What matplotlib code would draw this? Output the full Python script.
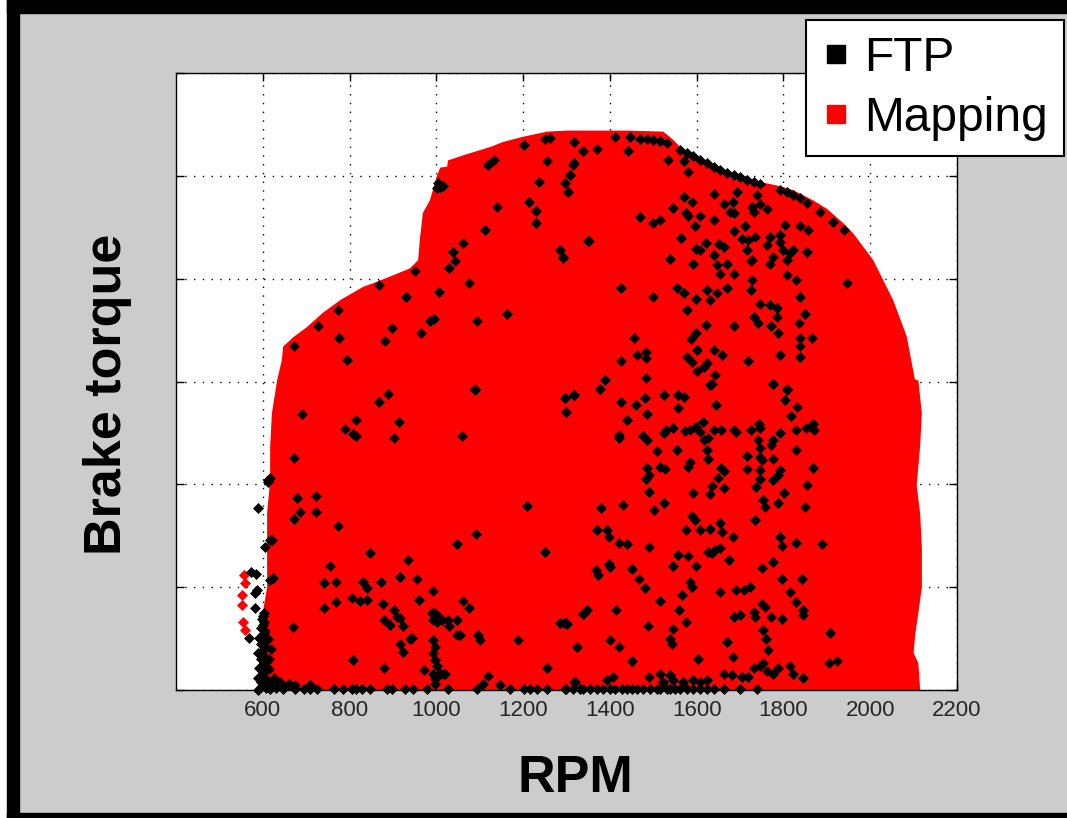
import matplotlib
matplotlib.use("Agg")
import matplotlib.pyplot as plt
from matplotlib.patches import Rectangle
from matplotlib.lines import Line2D

# ---------------- data ----------------
# outline of the engine-mapping cloud (RPM, brake torque, arbitrary units)
map_rpm = [589, 594, 600, 610, 610, 610, 617, 617, 621, 633, 644, 647, 670, 702, 739, 778,
           831, 863, 893, 939, 958, 962, 969, 985, 1002, 1009, 1025, 1027, 1062, 1124, 1154,
           1200, 1255, 1301, 1440, 1523, 1546, 1562, 1615, 1692, 1746, 1792, 1823, 1869, 1900,
           1938, 1961, 2007, 2053, 2084, 2103, 2111, 2119, 2115, 2107, 2115, 2119, 2119, 2111,
           2104, 2100, 2111, 2115]
map_torque = [0, 42, 75, 100, 139, 172, 204, 236, 269, 301, 321, 334, 343, 353, 367, 379,
              392, 397, 402, 410, 418, 438, 464, 476, 501, 508, 509, 515, 520, 528, 533,
              538, 543, 544, 544, 543, 535, 528, 515, 501, 494, 490, 486, 476, 468,
              454, 444, 418, 379, 344, 302, 301, 269, 237, 199, 172, 139, 100, 75,
              55, 36, 26, 0]
# stray mapping points left of the main cloud
map_stray_rpm = [559, 552, 552, 554, 559, 556]
map_stray_torque = [104, 92, 83, 66, 58, 112]

# FTP cycle points (RPM, torque)
ftp_upper_left = [
    (1203, 530), (1251, 536), (1262, 537), (1317, 533), (1339, 524), (1118, 511), (1134, 515),
    (1256, 514), (1317, 512), (1308, 501), (1297, 493), (1304, 484), (1237, 494), (1008, 489),
    (1002, 488), (1015, 490), (1004, 493), (1214, 475), (1230, 466), (1230, 454), (1139, 470),
    (1113, 447), (1062, 435), (1038, 426), (1043, 417), (1030, 410), (1284, 428), (1293, 420),
    (1350, 437), (1076, 396), (1006, 387), (951, 407), (869, 394), (930, 382), (774, 370),
    (727, 354), (672, 335), (776, 342), (793, 321), (897, 352), (882, 339), (964, 347),
    (985, 359), (995, 361), (1093, 359), (1164, 366), (1088, 293),
]
ftp_top_edge = [
    (1412, 538), (1446, 538), (1470, 536), (1485, 536), (1500, 535), (1516, 534), (1531, 532),
    (1562, 525), (1577, 522), (1592, 519), (1608, 515), (1623, 512), (1639, 509), (1654, 506),
    (1669, 503), (1685, 501), (1700, 499), (1715, 496), (1731, 494), (1746, 492), (1792, 486),
    (1808, 484), (1823, 481), (1838, 478), (1854, 474), (1884, 465), (1915, 455), (1940, 447),
]
ftp_upper_right = [
    (1317, 533), (1337, 524), (1371, 526), (1442, 524), (1533, 515), (1571, 514), (1579, 504),
    (1316, 511), (1308, 501), (1297, 493), (1304, 484), (1285, 428), (1293, 421), (1351, 437),
    (1470, 460), (1500, 454), (1516, 457), (1546, 469), (1571, 479), (1589, 475), (1576, 464),
    (1581, 461), (1608, 461), (1596, 451), (1639, 482), (1662, 473), (1683, 475), (1692, 484),
    (1685, 464), (1641, 457), (1677, 465), (1738, 481), (1727, 470), (1746, 473), (1761, 468),
    (1731, 465), (1712, 451), (1685, 446), (1704, 439), (1719, 438), (1735, 441), (1768, 441),
    (1761, 433), (1715, 428), (1727, 418), (1804, 452), (1838, 451), (1857, 447), (1792, 442),
    (1792, 436), (1800, 428), (1815, 425), (1823, 428), (1808, 418), (1777, 421), (1769, 414),
    (1854, 426), (1563, 440), (1622, 435), (1599, 429), (1608, 428), (1652, 434), (1662, 431),
    (1639, 423), (1539, 419), (1592, 414), (1646, 413), (1669, 414), (1654, 405), (1685, 405),
    (1725, 417), (1727, 399), (1725, 389), (1808, 404), (1829, 399), (1946, 396), (1425, 391),
    (1500, 382), (1554, 391), (1571, 386), (1599, 380), (1623, 389), (1631, 379), (1646, 386),
    (1669, 391), (1577, 370), (1838, 382), (1746, 375), (1769, 374), (1785, 371), (1785, 363),
    (1731, 363), (1742, 357), (1771, 354), (1850, 366), (1837, 357), (1622, 355), (1599, 347),
    (1686, 354), (1586, 341), (1788, 347), (1838, 342), (1866, 342), (1838, 335), (1456, 342),
    (1463, 326), (1483, 329), (1483, 323), (1425, 320), (1577, 324), (1600, 331), (1639, 331),
    (1658, 326), (1589, 319), (1600, 310), (1616, 314), (1623, 318), (1642, 306), (1635, 298),
    (1719, 320), (1791, 326), (1838, 324), (1483, 303), (1389, 301), (1777, 298), (1809, 293),
]
ftp_lower_left = [
    (1088, 292), (889, 288), (869, 280), (690, 268), (814, 263), (789, 254), (807, 249),
    (816, 247), (913, 261), (903, 245), (1060, 247), (1297, 284), (1317, 287), (1298, 270),
    (672, 226), (613, 204), (617, 206), (611, 202), (680, 187), (722, 189), (722, 173),
    (686, 173), (672, 166), (773, 159), (1208, 179), (1091, 152), (1047, 142), (1250, 134),
    (847, 133), (755, 121), (934, 126), (740, 104), (768, 105), (830, 105), (840, 99),
    (872, 105), (916, 110), (955, 108), (805, 89), (824, 87), (840, 88), (768, 86), (742, 80),
    (876, 84), (903, 78), (959, 88), (993, 96), (1062, 87), (1076, 80), (879, 68), (893, 63),
    (909, 71), (916, 70), (924, 62), (1047, 68), (1030, 62), (1047, 53), (1055, 53),
    (1097, 53), (1101, 49), (1189, 49), (1325, 42), (1295, 65), (1302, 64), (1339, 74),
    (1347, 78), (945, 51), (939, 50), (916, 45), (924, 37), (809, 29), (880, 21), (972, 19),
    (997, 6), (1016, 16), (1120, 14), (1108, 6), (1147, 5), (1254, 21), (1317, 8), (669, 61),
    (568, 51), (590, 177), (617, 146), (604, 139), (621, 146), (617, 107), (624, 109),
    (574, 115), (584, 113), (586, 97), (582, 94), (582, 80),
    (989, 75), (997, 75), (1005, 71), (993, 68), (1001, 66), (1012, 68), (1028, 68),
    (993, 49), (997, 42), (993, 36), (997, 29), (1001, 23), (993, 16), (1009, 16), (1020, 16),
    (997, 11),
]
ftp_idle = [
    (590, 0), (595, 3), (600, 6), (605, 9), (590, 12), (598, 15), (604, 18), (592, 21),
    (600, 24), (608, 27), (595, 30), (603, 33), (590, 36), (600, 39), (606, 42), (595, 45),
    (601, 48), (592, 51), (600, 54), (605, 57), (597, 60), (600, 63), (603, 66), (598, 69),
    (600, 72), (602, 75), (612, 3), (620, 5), (630, 2), (640, 8), (625, 12), (615, 20),
    (650, 3), (660, 6), (615, 30), (618, 40), (610, 10), (612, 50), (596, 8), (608, 2),
]
ftp_lower_right = [
    (1297, 284), (1317, 287), (1299, 270), (1377, 293), (1425, 280), (1460, 277), (1481, 284),
    (1486, 268), (1439, 263), (1525, 287), (1558, 287), (1571, 285), (1556, 274), (1645, 277),
    (1631, 297), (1777, 298), (1808, 292), (1804, 282), (1831, 275), (1817, 266), (1420, 248),
    (1422, 245), (1476, 247), (1486, 243), (1525, 250), (1529, 253), (1546, 255), (1573, 252),
    (1585, 253), (1599, 256), (1615, 261), (1608, 251), (1617, 243), (1627, 245), (1639, 253),
    (1655, 253), (1623, 233), (1685, 253), (1691, 251), (1725, 253), (1744, 259), (1746, 255),
    (1777, 243), (1771, 238), (1792, 250), (1829, 253), (1852, 255), (1868, 259), (1871, 253),
    (1742, 243), (1746, 235), (1746, 227), (1750, 224), (1715, 228), (1775, 225), (1792, 214),
    (1788, 209), (1777, 204), (1746, 214), (1746, 205), (1715, 215), (1737, 197), (1829, 233),
    (1868, 216), (1854, 199), (1554, 233), (1509, 232), (1486, 216), (1516, 217), (1527, 215),
    (1491, 209), (1483, 205), (1585, 222), (1581, 217), (1655, 216), (1662, 213), (1627, 225),
    (1650, 206), (1635, 198), (1662, 196), (1631, 191), (1592, 192), (1489, 193), (1525, 182),
    (1502, 175), (1430, 180), (1380, 177), (1754, 185), (1758, 178), (1788, 182), (1801, 192),
    (1850, 178), (1735, 165), (1589, 169), (1596, 165), (1654, 162), (1658, 154), (1631, 157),
    (1608, 156), (1575, 156), (1393, 156), (1399, 149), (1370, 156), (1420, 143), (1439, 142),
    (1489, 139), (1683, 149), (1792, 149), (1796, 140), (1829, 143), (1888, 142), (1627, 134),
    (1642, 136), (1654, 138), (1635, 133), (1675, 126), (1556, 131), (1546, 121), (1581, 130),
    (1599, 121), (1399, 123), (1400, 120), (1368, 117), (1373, 112), (1450, 118), (1468, 108),
    (1481, 99), (1585, 105), (1589, 100), (1566, 92), (1654, 95), (1691, 97), (1708, 97),
    (1722, 100), (1750, 119), (1777, 124), (1796, 108), (1842, 108), (1814, 95), (1829, 86),
    (1750, 84), (1758, 81), (1846, 78), (1846, 73), (1731, 76), (1735, 71), (1685, 71),
    (1700, 73), (1771, 71), (1796, 69), (1516, 87), (1560, 78), (1576, 66), (1487, 62),
    (1546, 59), (1539, 50), (1543, 45), (1669, 47), (1754, 58), (1760, 50), (1765, 39),
    (1907, 55), (1904, 26), (1924, 28), (1325, 42), (1400, 49), (1422, 42), (1450, 28),
    (1604, 30), (1683, 32), (1731, 21), (1746, 23), (1754, 26), (1761, 18), (1777, 16),
    (1788, 21), (1815, 23), (1823, 16), (1846, 12), (1662, 16), (1681, 15), (1704, 13),
    (1719, 13), (1408, 13), (1393, 10), (1320, 8), (1285, 65), (1300, 65), (1340, 75),
    (1414, 78), (1489, 13), (1516, 16), (1539, 15), (1546, 10), (1523, 8), (1569, 8),
    (1592, 10), (1608, 8), (1623, 10),
]
ftp_zero_torque_rpm = [
    617, 647, 674, 694, 709, 724, 763, 786, 805, 816, 828, 847, 886, 897, 928, 947, 978,
    1028, 1093, 1170, 1201, 1216, 1231, 1254, 1300, 1316, 1339, 1297, 1331, 1354, 1370,
    1385, 1400, 1412, 1427, 1439, 1450, 1462, 1477, 1493, 1508, 1516, 1531, 1539, 1550,
    1562, 1577, 1592, 1608, 1623, 1639, 1662, 1700, 1738, 674, 709,
]
ftp_zero_torque = [1] * 54 + [5, 5]

x_ticks = [600, 800, 1000, 1200, 1400, 1600, 1800, 2000, 2200]
y_ticks = [0, 100, 200, 300, 400, 500, 600]
x_label = "RPM"
y_label = "Brake torque"
legend_labels = ["FTP", "Mapping"]

# ---------------- figure ----------------
W, H = 1067, 818
fig = plt.figure(figsize=(W / 100, H / 100), dpi=100, facecolor="#cccccc")
plt.rcParams["font.family"] = ["Liberation Sans", "DejaVu Sans"]

# outer frame
fig.patches.append(Rectangle((0, 0), 7 / W, 1, transform=fig.transFigure, color="white", zorder=0))
fig.patches.append(Rectangle((7 / W, 1 - 13 / H), 1, 13 / H, transform=fig.transFigure, color="black", zorder=0))
fig.patches.append(Rectangle((7 / W, 0), 12 / W, 1, transform=fig.transFigure, color="black", zorder=0))
fig.patches.append(Rectangle((7 / W, 0), 1, 5 / H, transform=fig.transFigure, color="black", zorder=0))

ax = fig.add_axes([176 / W, 1 - 690 / H, (957 - 176) / W, (690 - 73) / H])
ax.set_facecolor("white")

ax.fill(map_rpm, map_torque, color="#ff0000", lw=0, zorder=2)
ax.plot(map_stray_rpm, map_stray_torque, ls="", marker="D", ms=5.5, color="#ff0000",
        mec="#ff0000", mew=0.5, zorder=2)

ftp_all = (ftp_upper_left + ftp_top_edge + ftp_upper_right + ftp_lower_left + ftp_idle
           + ftp_lower_right)
ftp_rpm = [p[0] for p in ftp_all] + ftp_zero_torque_rpm
ftp_tq = [p[1] for p in ftp_all] + ftp_zero_torque
ax.plot(ftp_rpm, ftp_tq, ls="", marker="D", ms=5.6, color="black", mec="black", mew=0.5,
        zorder=3, clip_on=False)

ax.set_xlim(400, 2200)
ax.set_ylim(0, 600)
ax.set_xticks(x_ticks)
ax.set_yticks(y_ticks)
ax.set_yticklabels([])
ax.tick_params(axis="both", direction="in", length=5.8, width=1.0, top=True, right=True,
               colors="black")
ax.tick_params(axis="x", labelsize=16, labelcolor="#262626", pad=7.5)
ax.grid(True, color="black", linestyle=(0, (1, 5.3)), linewidth=1.0, zorder=1)
ax.set_axisbelow(True)
for s in ax.spines.values():
    s.set_linewidth(1.0)
    s.set_color("black")
    s.set_zorder(4)

fig.text(108 / W, 1 - 394 / H, y_label, rotation=90, ha="center", va="center",
         fontsize=37.5, fontweight="bold", color="black")
fig.text(575 / W, 1 - 778 / H, x_label, ha="center", va="center",
         fontsize=37.5, fontweight="bold", color="black")

handles = [Line2D([], [], ls="", marker="s", ms=13, color="black"),
           Line2D([], [], ls="", marker="s", ms=13, color="#ff0000")]
leg = fig.legend(handles, legend_labels, loc="upper left",
                 bbox_to_anchor=(806 / W, 1 - 20 / H), fontsize=34.5, frameon=True,
                 fancybox=False, edgecolor="black", framealpha=1, borderpad=0.33,
                 handlelength=0.6, handletextpad=0.28, labelspacing=0.31, borderaxespad=0)
leg.get_frame().set_linewidth(1.5)

fig.savefig("out.png", dpi=100, facecolor=fig.get_facecolor())
